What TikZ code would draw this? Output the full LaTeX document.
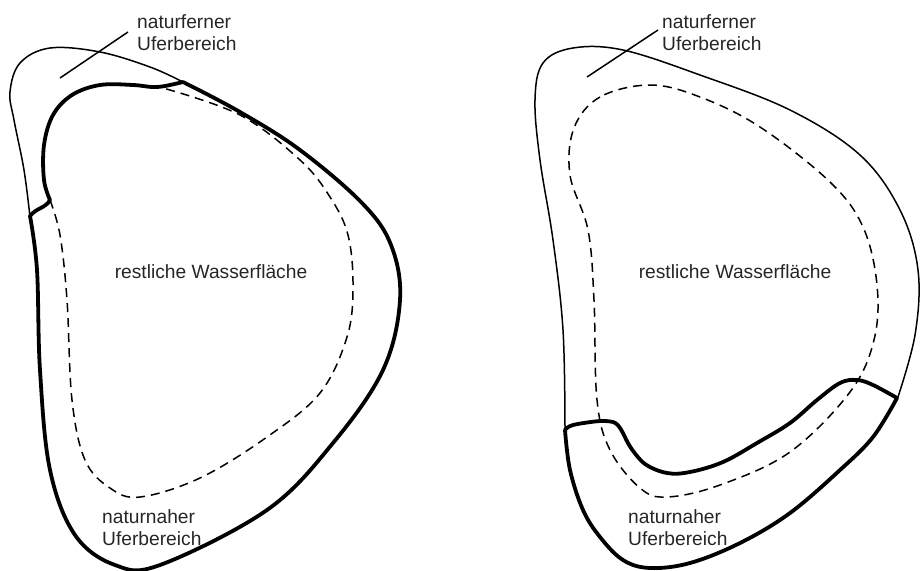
\documentclass[tikz,border=0pt]{standalone}
\usepackage{fontspec}
\setmainfont{Liberation Sans}
\begin{document}
\begin{tikzpicture}[x=1pt,y=-1pt,
  shore/.style={line width=1.5pt,line join=round},
  bank/.style={line width=3.8pt,line join=round,line cap=round},
  water/.style={line width=1.5pt,dash pattern=on 9pt off 6pt},
  leader/.style={line width=1.5pt},
  lbl/.style={inner sep=0pt,align=left,text=black!85,font=\fontsize{19.2}{22}\selectfont},
  lblc/.style={inner sep=0pt,text=black!85,font=\fontsize{19.2}{22}\selectfont}]
\useasboundingbox (0,0) rectangle (920,570);

% ---------- left lake: natural shore almost all around ----------
\draw[shore] plot[smooth,tension=0.6] coordinates
  {(30,217) (24,170) (14,120) (10,92) (20,63) (50,48) (100,52) (150,67) (183,82)};
\draw[bank] plot[smooth,tension=0.6] coordinates
  {(183,82) (165,86) (152,87) (133,85) (100,85) (72,95) (53,115) (44,145) (44,180) (50,200)}
  .. controls (46,208) and (36,208) .. (30,216)
  -- plot[smooth,tension=0.6] coordinates
  {(30,216) (37,270) (40,370) (50,470) (75,535) (115,565) (160,565) (267,510) (333,443) (383,370) (400,300) (391,245) (362,203) (300,150) (240,112) (183,82)};
\draw[water] plot[smooth,tension=0.6] coordinates
  {(50,200) (60,235) (67,300) (72,400) (85,460) (110,488) (140,497) (200,478) (267,437) (320,393) (347,337) (353,287) (348,235) (330,197) (300,160) (240,115) (163,88)};

\coordinate (farL) at (128,32);
\coordinate (farLend) at (60,78);
\draw[leader] (farL) -- (farLend);
\node[lbl,anchor=north west] (ferneL) at (137,14.5) {naturferner\\Uferbereich};
\node[lblc] (restL) at (211,272) {restliche Wasserfläche};
\node[lbl,anchor=north west] (naheL) at (102,509.5) {naturnaher\\Uferbereich};

% ---------- right lake: natural shore only in the south ----------
\draw[shore] plot[smooth,tension=0.6] coordinates
  {(565,430) (563,330) (553,240) (540,160) (535,100) (543,63) (573,48) (623,50) (700,75) (790,110) (860,155) (900,210) (918,270) (915,335) (897,400)};
\draw[bank] plot[smooth,tension=0.6] coordinates
  {(565,430) (573,425) (600,421) (613,422)}
  .. controls (621,424) and (624,438) .. (631,448)
  -- plot[smooth,tension=0.6] coordinates
  {(631,448) (645,464) (667,473) (690,472) (723,462) (757,443) (790,423) (817,400) (840,383) (857,380) (873,385) (897,398)}
  -- plot[smooth,tension=0.6] coordinates
  {(897,398) (873,437) (840,470) (790,513) (740,543) (690,563) (650,568) (623,560) (600,537) (583,510) (570,470) (565,430)};
\draw[water] plot[smooth cycle,tension=0.6] coordinates
  {(650,85) (600,97) (574,128) (570,175) (588,230) (594,300) (597,400) (610,450) (640,488) (667,497) (720,485) (790,452) (850,392) (874,340) (877,285) (863,227) (830,182) (760,127) (700,97)};

\coordinate (farR) at (658,30);
\coordinate (farRend) at (587,77);
\draw[leader] (farR) -- (farRend);
\node[lbl,anchor=north west] (ferneR) at (662,14.5) {naturferner\\Uferbereich};
\node[lblc] (restR) at (735,272) {restliche Wasserfläche};
\node[lbl,anchor=north west] (naheR) at (628,509.5) {naturnaher\\Uferbereich};
\end{tikzpicture}
\end{document}
